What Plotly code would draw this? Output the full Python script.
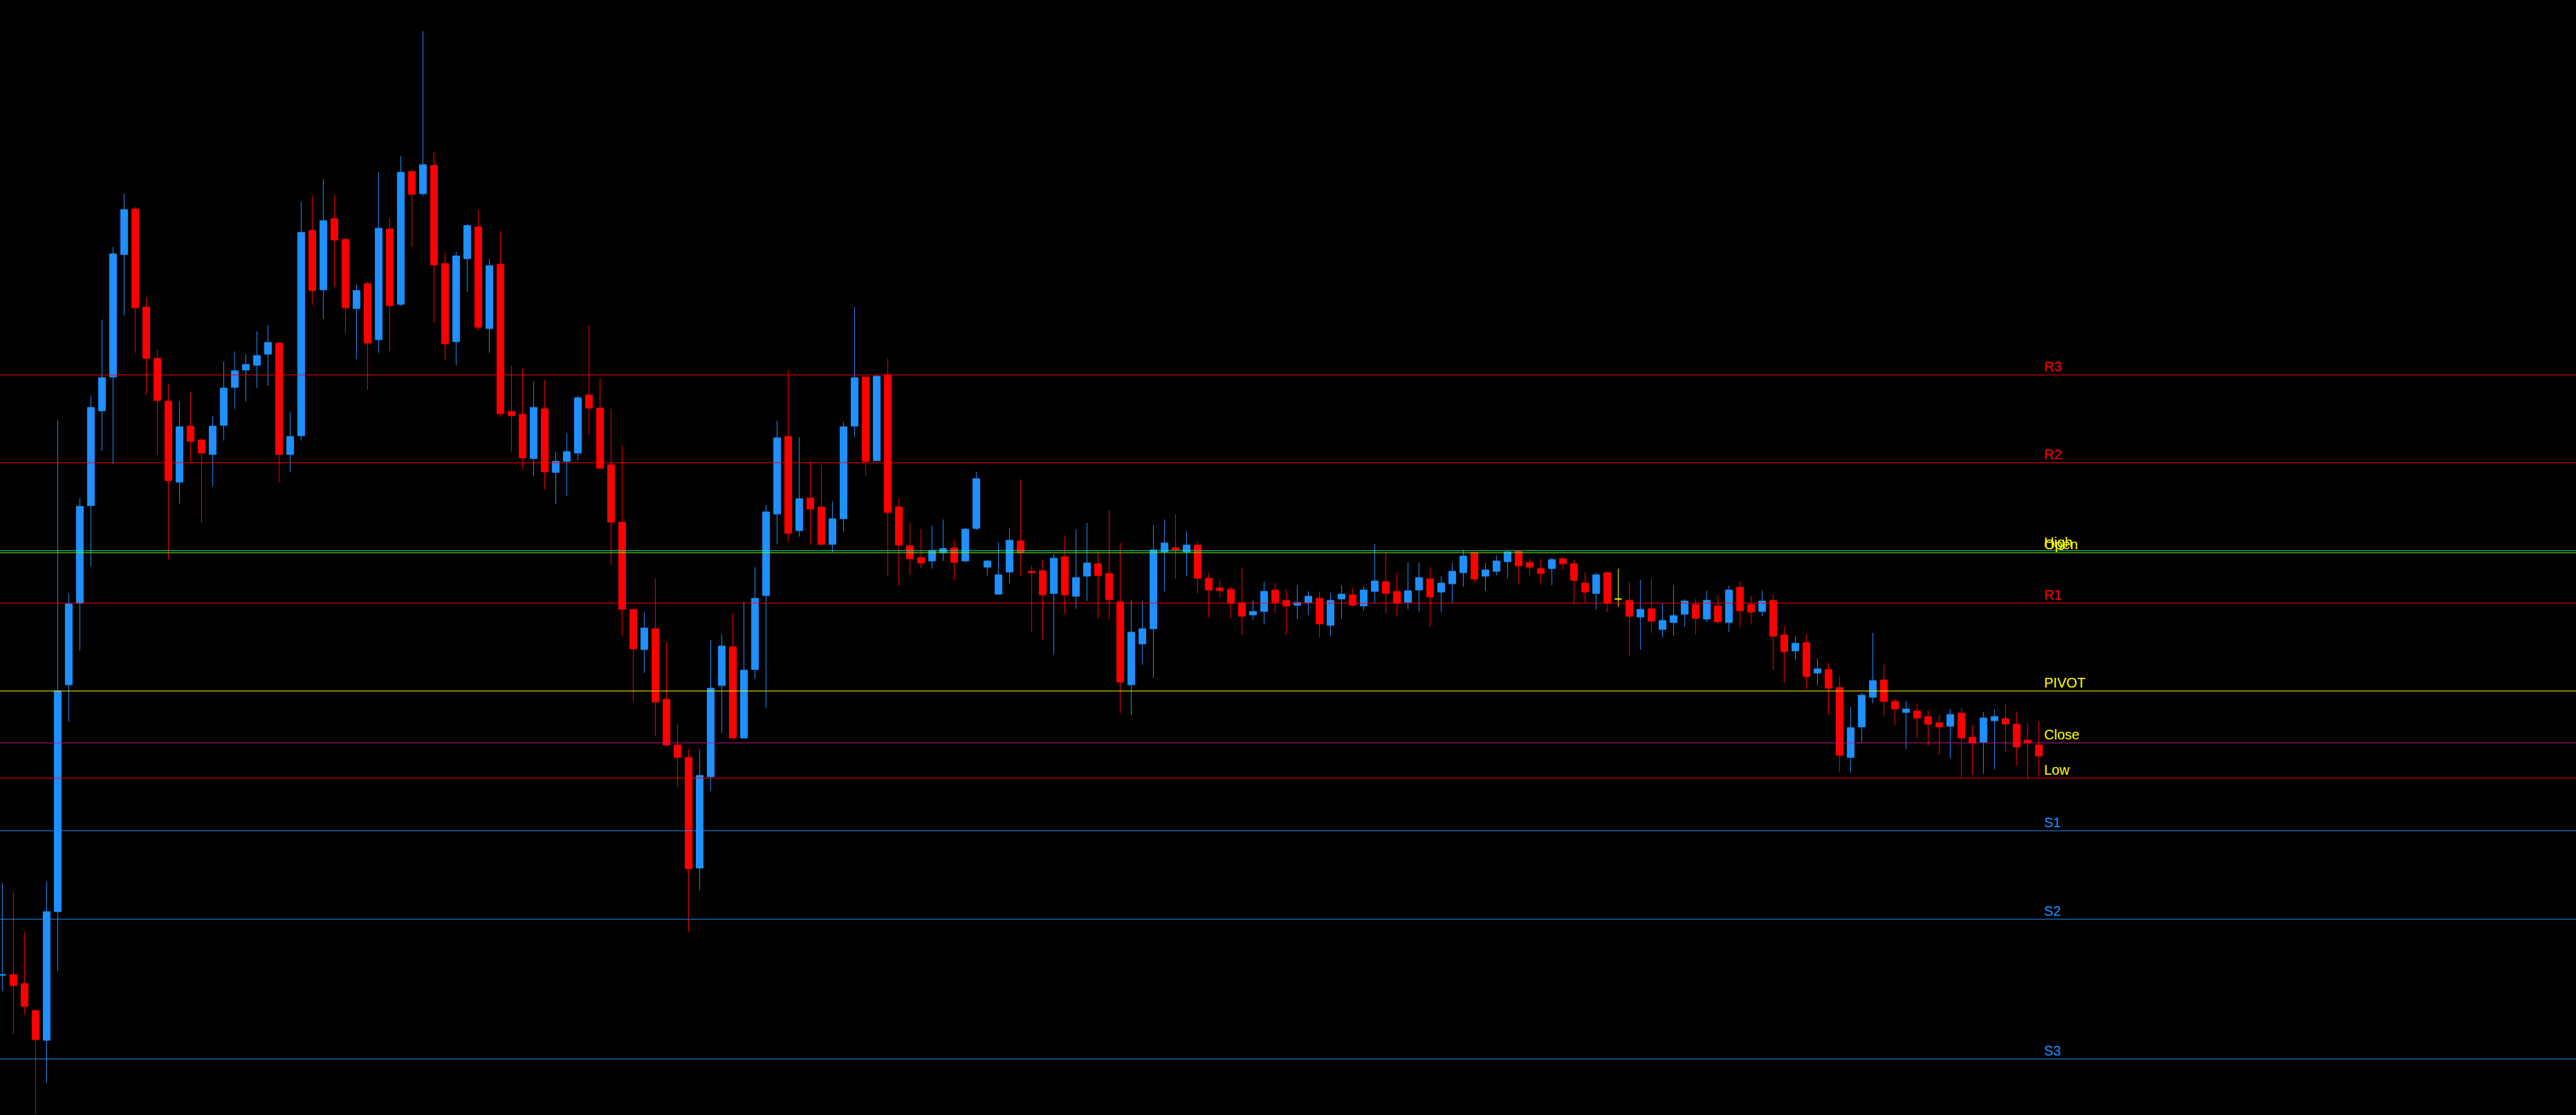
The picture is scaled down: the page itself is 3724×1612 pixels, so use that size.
import plotly.graph_objects as go

# ---- candle data (price), index = bar number ----
open_ = [1.26590,1.26591,1.26578,1.26539,1.26496,1.26682,1.27010,1.27128,1.27269,1.27406,
 1.27455,1.27632,1.27698,1.27556,1.27482,1.27420,1.27303,1.27384,1.27364,1.27343,
 1.27385,1.27440,1.27465,1.27472,1.27488,1.27504,1.27343,1.27370,1.27667,1.27581,
 1.27684,1.27654,1.27554,1.27590,1.27509,1.27669,1.27560,1.27752,1.27720,1.27761,
 1.27619,1.27506,1.27626,1.27672,1.27525,1.27618,1.27405,1.27401,1.27337,1.27409,
 1.27317,1.27333,1.27345,1.27429,1.27410,1.27328,1.27245,1.27119,1.27061,1.27091,
 1.26989,1.26923,1.26905,1.26745,1.26877,1.27009,1.27065,1.26933,1.27032,1.27139,
 1.27257,1.27369,1.27233,1.27280,1.27267,1.27213,1.27250,1.27384,1.27455,1.27334,
 1.27458,1.27267,1.27211,1.27194,1.27189,1.27201,1.27208,1.27189,1.27236,1.27180,
 1.27141,1.27173,1.27218,1.27174,1.27175,1.27142,1.27195,1.27138,1.27167,1.27185,
 1.27171,1.27130,1.27010,1.27069,1.27091,1.27202,1.27208,1.27202,1.27212,1.27164,
 1.27150,1.27148,1.27128,1.27111,1.27116,1.27147,1.27132,1.27125,1.27129,1.27135,
 1.27096,1.27134,1.27140,1.27124,1.27145,1.27159,1.27145,1.27129,1.27147,1.27163,
 1.27144,1.27156,1.27172,1.27201,1.27167,1.27174,1.27188,1.27203,1.27187,1.27178,
 1.27178,1.27192,1.27185,1.27157,1.27142,1.27172,1.27134,1.27132,1.27108,1.27120,
 1.27090,1.27100,1.27112,1.27126,1.27105,1.27124,1.27100,1.27151,1.27126,1.27116,
 1.27132,1.27082,1.27059,1.27071,1.27027,1.27032,1.27006,1.26905,1.26949,1.26992,
 1.27017,1.26986,1.26970,1.26972,1.26964,1.26955,1.26950,1.26969,1.26934,1.26927,
 1.26958,1.26961,1.26953,1.26930,1.26923]
high = [1.26723,1.26711,1.26653,1.26541,1.26725,1.27393,1.27142,1.27280,1.27428,1.27538,
 1.27643,1.27720,1.27701,1.27570,1.27495,1.27445,1.27420,1.27434,1.27367,1.27399,
 1.27477,1.27492,1.27488,1.27521,1.27530,1.27506,1.27404,1.27708,1.27717,1.27741,
 1.27718,1.27655,1.27588,1.27592,1.27751,1.27685,1.27774,1.27756,1.27955,1.27780,
 1.27635,1.27636,1.27676,1.27697,1.27626,1.27666,1.27471,1.27467,1.27448,1.27451,
 1.27347,1.27373,1.27428,1.27530,1.27453,1.27409,1.27355,1.27120,1.27115,1.27164,
 1.27071,1.26953,1.26917,1.26916,1.27075,1.27083,1.27114,1.27130,1.27180,1.27270,
 1.27392,1.27465,1.27368,1.27334,1.27327,1.27275,1.27390,1.27556,1.27455,1.27457,
 1.27482,1.27279,1.27245,1.27235,1.27240,1.27249,1.27220,1.27237,1.27318,1.27190,
 1.27216,1.27236,1.27307,1.27182,1.27191,1.27199,1.27225,1.27235,1.27244,1.27203,
 1.27262,1.27215,1.27132,1.27131,1.27241,1.27249,1.27257,1.27232,1.27218,1.27172,
 1.27162,1.27152,1.27179,1.27132,1.27159,1.27157,1.27148,1.27154,1.27145,1.27145,
 1.27143,1.27154,1.27150,1.27153,1.27214,1.27202,1.27172,1.27187,1.27187,1.27180,
 1.27167,1.27186,1.27205,1.27203,1.27186,1.27197,1.27203,1.27205,1.27193,1.27192,
 1.27194,1.27195,1.27191,1.27173,1.27172,1.27174,1.27178,1.27158,1.27162,1.27163,
 1.27128,1.27154,1.27134,1.27135,1.27146,1.27140,1.27153,1.27160,1.27139,1.27146,
 1.27140,1.27094,1.27080,1.27083,1.27048,1.27042,1.27022,1.26978,1.26998,1.27085,
 1.27039,1.26990,1.26986,1.26983,1.26973,1.26967,1.26975,1.26976,1.26952,1.26971,
 1.26975,1.26983,1.26971,1.26955,1.26957]
low = [1.26567,1.26506,1.26534,1.26389,1.26435,1.26596,1.26957,1.27059,1.27181,1.27348,
 1.27329,1.27544,1.27490,1.27429,1.27343,1.27191,1.27272,1.27332,1.27244,1.27297,
 1.27363,1.27409,1.27420,1.27439,1.27442,1.27303,1.27317,1.27363,1.27559,1.27539,
 1.27585,1.27518,1.27481,1.27436,1.27490,1.27493,1.27558,1.27643,1.27716,1.27533,
 1.27480,1.27472,1.27578,1.27522,1.27490,1.27397,1.27347,1.27322,1.27312,1.27292,
 1.27271,1.27283,1.27334,1.27372,1.27323,1.27183,1.27081,1.26986,1.27027,1.26936,
 1.26921,1.26862,1.26653,1.26713,1.26856,1.26940,1.26930,1.26933,1.27018,1.26977,
 1.27213,1.27217,1.27224,1.27212,1.27210,1.27201,1.27231,1.27368,1.27312,1.27333,
 1.27168,1.27153,1.27169,1.27178,1.27178,1.27189,1.27161,1.27187,1.27234,1.27168,
 1.27141,1.27157,1.27167,1.27086,1.27075,1.27054,1.27112,1.27120,1.27131,1.27106,
 1.27104,1.26969,1.26966,1.27039,1.27020,1.27145,1.27163,1.27167,1.27142,1.27107,
 1.27135,1.27106,1.27082,1.27104,1.27097,1.27114,1.27082,1.27105,1.27111,1.27078,
 1.27081,1.27106,1.27123,1.27117,1.27128,1.27113,1.27109,1.27119,1.27116,1.27094,
 1.27115,1.27128,1.27152,1.27158,1.27146,1.27168,1.27164,1.27156,1.27168,1.27157,
 1.27154,1.27177,1.27126,1.27128,1.27119,1.27115,1.27123,1.27051,1.27061,1.27085,
 1.27078,1.27081,1.27094,1.27083,1.27101,1.27098,1.27086,1.27093,1.27097,1.27109,
 1.27031,1.27013,1.27046,1.27004,1.27009,1.26966,1.26884,1.26883,1.26927,1.26983,
 1.26964,1.26952,1.26917,1.26932,1.26921,1.26909,1.26904,1.26875,1.26880,1.26881,
 1.26888,1.26913,1.26893,1.26874,1.26877]
close = [1.26591,1.26575,1.26545,1.26497,1.26682,1.27001,1.27127,1.27268,1.27411,1.27454,
 1.27633,1.27697,1.27555,1.27482,1.27421,1.27305,1.27383,1.27362,1.27345,1.27384,
 1.27439,1.27464,1.27473,1.27486,1.27505,1.27343,1.27369,1.27664,1.27580,1.27681,
 1.27653,1.27555,1.27580,1.27504,1.27670,1.27558,1.27751,1.27719,1.27762,1.27617,
 1.27503,1.27630,1.27674,1.27527,1.27616,1.27402,1.27399,1.27338,1.27411,1.27318,
 1.27333,1.27347,1.27425,1.27410,1.27323,1.27245,1.27119,1.27062,1.27092,1.26985,
 1.26923,1.26905,1.26744,1.26879,1.27005,1.27066,1.26933,1.27031,1.27135,1.27260,
 1.27367,1.27229,1.27279,1.27264,1.27213,1.27250,1.27383,1.27454,1.27333,1.27456,
 1.27259,1.27212,1.27192,1.27186,1.27204,1.27207,1.27187,1.27235,1.27308,1.27189,
 1.27169,1.27219,1.27201,1.27172,1.27140,1.27193,1.27140,1.27165,1.27186,1.27168,
 1.27133,1.27014,1.27086,1.27091,1.27205,1.27215,1.27205,1.27212,1.27164,1.27147,
 1.27146,1.27128,1.27109,1.27116,1.27145,1.27129,1.27124,1.27129,1.27138,1.27098,
 1.27132,1.27141,1.27125,1.27147,1.27160,1.27142,1.27128,1.27146,1.27165,1.27137,
 1.27157,1.27174,1.27196,1.27163,1.27176,1.27189,1.27202,1.27182,1.27180,1.27171,
 1.27191,1.27185,1.27161,1.27144,1.27169,1.27128,1.27134,1.27109,1.27119,1.27102,
 1.27103,1.27110,1.27131,1.27106,1.27132,1.27101,1.27147,1.27117,1.27115,1.27131,
 1.27080,1.27058,1.27070,1.27022,1.27033,1.27005,1.26908,1.26948,1.26995,1.27016,
 1.26986,1.26975,1.26975,1.26962,1.26953,1.26949,1.26967,1.26933,1.26926,1.26962,
 1.26964,1.26953,1.26920,1.26926,1.26907]

doji_bars = [146]          # open == close, drawn in the line-chart colour

# ---- horizontal levels ----
level_names  = ["R3", "R2", "High", "Open", "R1", "PIVOT", "Close", "Low", "S1", "S2", "S3"]
level_values = [1.27458, 1.27331, 1.27204, 1.27201, 1.27128, 1.27001, 1.26926, 1.26875, 1.26799, 1.26671, 1.26469]
level_colors = ["#FF0000", "#FF0000", "#00FA9A", "#7CFC00", "#FF0000", "#FFFF00", "#C71585", "#FF0000",
                "#1E90FF", "#1E90FF", "#1E90FF"]
label_colors = ["#FF0000", "#FF0000", "#FFFF00", "#FFFF00", "#FF0000", "#FFFF00", "#FFFF00", "#FFFF00",
                "#1E90FF", "#1E90FF", "#1E90FF"]

BULL = "#1E90FF"
BEAR = "#FF0000"
DOJI = "#FFFF00"

n = len(open_)
idx = list(range(n))
main_idx = [i for i in idx if i not in doji_bars]

fig = go.Figure()
fig.add_trace(go.Candlestick(
    x=main_idx,
    open=[open_[i] for i in main_idx],
    high=[high[i] for i in main_idx],
    low=[low[i] for i in main_idx],
    close=[close[i] for i in main_idx],
    increasing=dict(line=dict(color=BULL, width=1), fillcolor=BULL),
    decreasing=dict(line=dict(color=BEAR, width=1), fillcolor=BEAR),
    hoverinfo="skip", showlegend=False,
))
fig.add_trace(go.Candlestick(
    x=doji_bars,
    open=[open_[i] for i in doji_bars],
    high=[high[i] for i in doji_bars],
    low=[low[i] for i in doji_bars],
    close=[close[i] for i in doji_bars],
    increasing=dict(line=dict(color=DOJI, width=1), fillcolor=DOJI),
    decreasing=dict(line=dict(color=DOJI, width=1), fillcolor=DOJI),
    hoverinfo="skip", showlegend=False,
))

W, H = 3724, 1612
BAR_PX = 16.0      # bar spacing in pixels
FIRST_PX = 3.4     # centre of first bar
x_lo = (0 - FIRST_PX) / BAR_PX
x_hi = (W - FIRST_PX) / BAR_PX

shapes = []
annotations = []
label_x = 2953 / W
for name, val, lc, tc in zip(level_names, level_values, level_colors, label_colors):
    shapes.append(dict(type="line", xref="paper", x0=0, x1=1, yref="y", y0=val, y1=val,
                       line=dict(color=lc, width=1), layer="above"))
    annotations.append(dict(xref="paper", x=label_x, xanchor="left", yref="y", y=val,
                            yanchor="bottom", yshift=-1, text=name, showarrow=False,
                            font=dict(family="Arial, Liberation Sans, sans-serif", size=20, color=tc)))

fig.update_layout(
    width=W, height=H,
    margin=dict(l=0, r=0, t=0, b=0),
    paper_bgcolor="#000000", plot_bgcolor="#000000",
    showlegend=False,
    boxgap=0.375, boxgroupgap=0,
    xaxis=dict(range=[x_lo, x_hi], visible=False, showgrid=False, zeroline=False,
               rangeslider=dict(visible=False), fixedrange=True),
    yaxis=dict(range=[1.26388, 1.28000], visible=False, showgrid=False, zeroline=False,
               fixedrange=True),
    shapes=shapes,
    annotations=annotations,
)

fig.write_html("out.html", config={"displayModeBar": False},
               post_script="document.body.style.margin='0';document.body.style.overflow='hidden';")
